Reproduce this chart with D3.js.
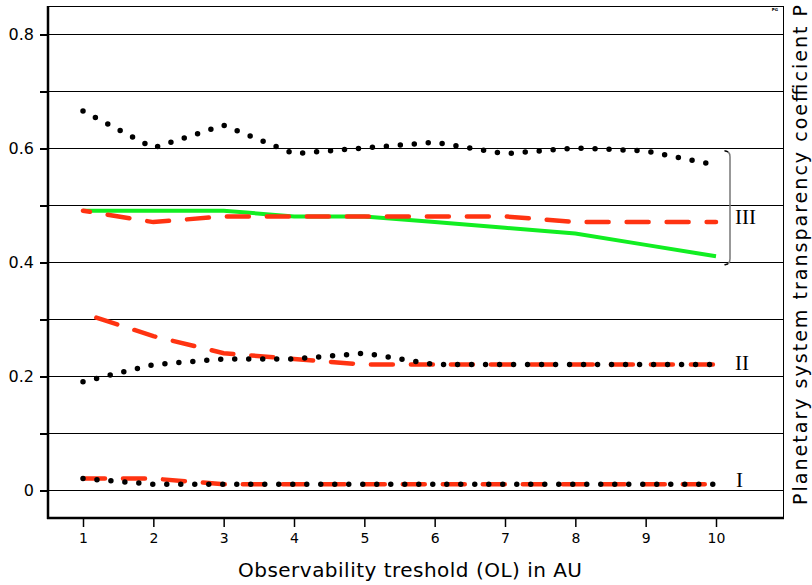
<!DOCTYPE html>
<html>
<head>
<meta charset="utf-8">
<script src="https://cdn.jsdelivr.net/npm/d3@7"></script>
<style>
  body { margin: 0; background: #fff; }
  svg { display: block; }
</style>
</head>
<body>
<div id="chart"></div>
<script>
const xs = [1, 2, 3, 4, 5, 6, 7, 8, 9, 10];
const yTicks = [0, 0.1, 0.2, 0.3, 0.4, 0.5, 0.6, 0.7, 0.8];
const yLabels = [0, 0.2, 0.4, 0.6, 0.8];

// group III
const blackIII = [0.665, 0.60, 0.64, 0.59, 0.60, 0.61, 0.59, 0.60, 0.595, 0.57];
const redIII   = [0.49, 0.47, 0.48, 0.48, 0.48, 0.48, 0.48, 0.47, 0.47, 0.47];
const greenIII = [0.49, 0.49, 0.49, 0.48, 0.48, 0.47, 0.46, 0.45, 0.43, 0.41];
// group II
const blackII = [0.19, 0.22, 0.23, 0.23, 0.24, 0.22, 0.22, 0.22, 0.22, 0.22];
const redII   = [0.31, 0.27, 0.24, 0.23, 0.22, 0.22, 0.22, 0.22, 0.22, 0.22];
// group I
const blackI = [0.02, 0.01, 0.01, 0.01, 0.01, 0.01, 0.01, 0.01, 0.01, 0.01];
const redI   = [0.02, 0.02, 0.01, 0.01, 0.01, 0.01, 0.01, 0.01, 0.01, 0.01];

const width = 812, height = 585;
const frame = {left: 48, right: 783, top: 6, bottom: 518};

const svg = d3.select("#chart").append("svg")
    .attr("width", width)
    .attr("height", height)
    .attr("font-family", "DejaVu Sans, sans-serif");

const x = d3.scaleLinear().domain([1, 10]).range([83, 716]);
const y = d3.scaleLinear().domain([0, 0.8]).range([490, 34]);

// grid
svg.append("g")
    .attr("shape-rendering", "crispEdges")
  .selectAll("line")
  .data(yTicks)
  .join("line")
    .attr("x1", frame.left).attr("x2", frame.right)
    .attr("y1", d => Math.round(y(d)) + 0.5).attr("y2", d => Math.round(y(d)) + 0.5)
    .attr("stroke", "#000")
    .attr("stroke-width", 1.3);

// frame
svg.append("rect")
    .attr("x", frame.left).attr("y", frame.top + 0.5)
    .attr("width", frame.right - frame.left + 0.5)
    .attr("height", frame.bottom - frame.top)
    .attr("fill", "none")
    .attr("stroke", "#000")
    .attr("stroke-width", 1.5)
    .attr("shape-rendering", "crispEdges");
svg.append("line")
    .attr("x1", frame.left).attr("x2", frame.left)
    .attr("y1", frame.top).attr("y2", frame.bottom + 1)
    .attr("stroke", "#000").attr("stroke-width", 2.5);
svg.append("line")
    .attr("x1", frame.left - 1).attr("x2", frame.right + 1)
    .attr("y1", frame.bottom).attr("y2", frame.bottom)
    .attr("stroke", "#000").attr("stroke-width", 2.5);

// y axis
const yAxis = d3.axisLeft(y)
    .tickValues(yTicks)
    .tickSize(8)
    .tickFormat(d => yLabels.includes(d) ? d3.format("~g")(d) : "");
const gy = svg.append("g")
    .attr("transform", `translate(${frame.left},0.5)`)
    .attr("shape-rendering", "crispEdges")
    .call(yAxis);
gy.select(".domain").remove();
gy.selectAll(".tick line").attr("stroke-width", 1.3);
gy.selectAll(".tick text")
    .attr("font-size", 16)
    .attr("font-family", "DejaVu Sans, sans-serif")
    .attr("x", -14);

// x axis
const xAxis = d3.axisBottom(x).tickValues(xs).tickSize(9).tickFormat(d3.format("d"));
const gx = svg.append("g")
    .attr("transform", `translate(0,${frame.bottom})`)
    .call(xAxis);
gx.select(".domain").remove();
gx.selectAll(".tick line").attr("stroke-width", 1.5);
gx.selectAll(".tick text")
    .attr("font-size", 14)
    .attr("font-family", "DejaVu Sans, sans-serif")
    .attr("y", 15);

// axis titles
svg.append("text")
    .attr("x", 238).attr("y", 577)
    .attr("font-size", 20)
    .attr("textLength", 344)
    .attr("lengthAdjust", "spacing")
    .text("Observability treshold (OL) in AU");

svg.append("text")
    .attr("transform", `translate(807,505) rotate(-90)`)
    .attr("font-size", 19)
    .attr("textLength", 500)
    .attr("lengthAdjust", "spacing")
    .text("Planetary system transparency coefficient P");

svg.append("text")
    .attr("x", 778).attr("y", 11)
    .attr("text-anchor", "end")
    .attr("font-size", 4)
    .attr("font-weight", "bold")
    .text("PG");

// lines
const line = d3.line().x((d, i) => x(xs[i])).y(d => y(d));

const series = [
  {values: greenIII, color: "#11ee22", width: 4, dash: null, cap: "butt"},
  {values: redIII, color: "#ff3311", width: 4.5, dash: "22,18", cap: "round", offset: 15},
  {values: blackIII, color: "#000", width: 5.5, dash: "0,14", cap: "round"},
  {values: redII, color: "#ff3311", width: 4.5, dash: "22,18", cap: "round", offset: -14},
  {values: blackII, color: "#000", width: 5.5, dash: "0,14", cap: "round"},
  {values: redI, color: "#ff3311", width: 4.5, dash: "22,18", cap: "round"},
  {values: blackI, color: "#000", width: 5.5, dash: "0,14", cap: "round"}
];

svg.append("g")
  .selectAll("path")
  .data(series)
  .join("path")
    .attr("d", d => line(d.values))
    .attr("fill", "none")
    .attr("stroke", d => d.color)
    .attr("stroke-width", d => d.width)
    .attr("stroke-linecap", d => d.cap)
    .attr("stroke-dasharray", d => d.dash)
    .attr("stroke-dashoffset", d => d.offset || 0);

// bracket for group III
const bx = 730, by1 = y(0.595), by2 = y(0.395);
svg.append("path")
    .attr("d", `M${bx - 6},${by1} Q${bx},${by1} ${bx},${by1 + 6} L${bx},${by2 - 6} Q${bx},${by2} ${bx - 6},${by2}`)
    .attr("fill", "none")
    .attr("stroke", "#777")
    .attr("stroke-width", 1.5);
svg.append("path")
    .attr("d", `M${bx - 5},${by1} L${bx - 2},${by1 + 1}  M${bx - 5},${by2} L${bx - 2},${by2 - 1}`)
    .attr("stroke", "#000")
    .attr("stroke-width", 1.2);

// roman numerals
const numerals = [
  {t: "III", v: 0.466, xpos: 735},
  {t: "II", v: 0.21, xpos: 735},
  {t: "I", v: 0.005, xpos: 736}
];
svg.append("g")
  .selectAll("text")
  .data(numerals)
  .join("text")
    .attr("x", d => d.xpos)
    .attr("y", d => y(d.v))
    .attr("font-family", "Liberation Serif, serif")
    .attr("font-size", 21)
    .text(d => d.t);
</script>
</body>
</html>
